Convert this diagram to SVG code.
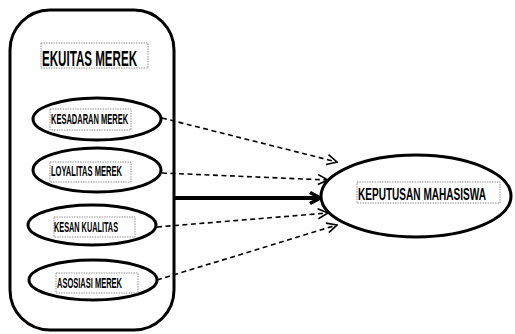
<svg xmlns="http://www.w3.org/2000/svg" width="515" height="334" viewBox="0 0 515 334">
<defs>
<style>
.shape{fill:#fff;stroke:#000;stroke-width:3}
.box{fill:#fff;stroke:#777;stroke-width:0.8;stroke-dasharray:1.5 1}
.lbl{font-family:"Liberation Sans",Arial,sans-serif;font-weight:bold;fill:#000}
.dash{fill:none;stroke:#000;stroke-width:1.6;stroke-dasharray:5 3.5}
.thick{fill:none;stroke:#000;stroke-width:4}
</style>
<marker id="open" viewBox="0 0 12 12" refX="11" refY="6" markerWidth="12" markerHeight="12" markerUnits="userSpaceOnUse" orient="auto">
<path d="M1,1 L11,6 L1,11" fill="none" stroke="#000" stroke-width="1.6"/>
</marker>
<marker id="bold" viewBox="0 0 14 14" refX="12" refY="7" markerWidth="14" markerHeight="14" markerUnits="userSpaceOnUse" orient="auto">
<path d="M2,1.5 L12,7 L2,12.5" fill="none" stroke="#000" stroke-width="3.5" stroke-linejoin="miter"/>
</marker>
</defs>
<g id="ekuitas-merek">
<rect class="shape" x="10" y="10" width="164" height="320" rx="40" ry="40"/>
<rect class="box" x="41" y="43" width="107" height="25"/>
<text class="lbl" transform="translate(42,66) scale(0.522,1)" font-size="22" textLength="182" lengthAdjust="spacingAndGlyphs">EKUITAS MEREK</text>
</g>
<g id="kesadaran-merek">
<ellipse class="shape" cx="97" cy="119" rx="64" ry="21"/>
<rect class="box" x="50" y="109" width="81" height="21"/>
<text class="lbl" transform="translate(51,124) scale(0.535,1)" font-size="14" textLength="144" lengthAdjust="spacingAndGlyphs">KESADARAN MEREK</text>
</g>
<g id="loyalitas-merek">
<ellipse class="shape" cx="97" cy="170" rx="64" ry="22"/>
<rect class="box" x="50" y="162" width="81" height="20"/>
<text class="lbl" transform="translate(51,176) scale(0.531,1)" font-size="14" textLength="133.7" lengthAdjust="spacingAndGlyphs">LOYALITAS MEREK</text>
</g>
<g id="kesan-kualitas">
<ellipse class="shape" cx="92" cy="225" rx="64" ry="20"/>
<rect class="box" x="54" y="217" width="81" height="20"/>
<text class="lbl" transform="translate(54,232) scale(0.517,1)" font-size="14" textLength="123.8" lengthAdjust="spacingAndGlyphs">KESAN KUALITAS</text>
</g>
<g id="asosiasi-merek">
<ellipse class="shape" cx="93" cy="280" rx="64" ry="20"/>
<rect class="box" x="56" y="273" width="82" height="20"/>
<text class="lbl" transform="translate(57,288) scale(0.535,1)" font-size="14" textLength="121.5" lengthAdjust="spacingAndGlyphs">ASOSIASI MEREK</text>
</g>
<g id="keputusan-mahasiswa">
<ellipse class="shape" cx="416" cy="196" rx="95" ry="41"/>
<rect class="box" x="357" y="182" width="143" height="21"/>
<text class="lbl" transform="translate(358,200) scale(0.59,1)" font-size="17" textLength="217" lengthAdjust="spacingAndGlyphs">KEPUTUSAN MAHASISWA</text>
</g>
<g id="connectors">
<line class="dash" x1="162" y1="118" x2="337" y2="162" marker-end="url(#open)"/>
<line class="dash" x1="162" y1="173" x2="328" y2="180" marker-end="url(#open)"/>
<line class="thick" x1="175" y1="198" x2="320" y2="198" marker-end="url(#bold)"/>
<line class="dash" x1="157" y1="227" x2="328" y2="213" marker-end="url(#open)"/>
<line class="dash" x1="157" y1="280" x2="337" y2="225" marker-end="url(#open)"/>
</g>
</svg>
